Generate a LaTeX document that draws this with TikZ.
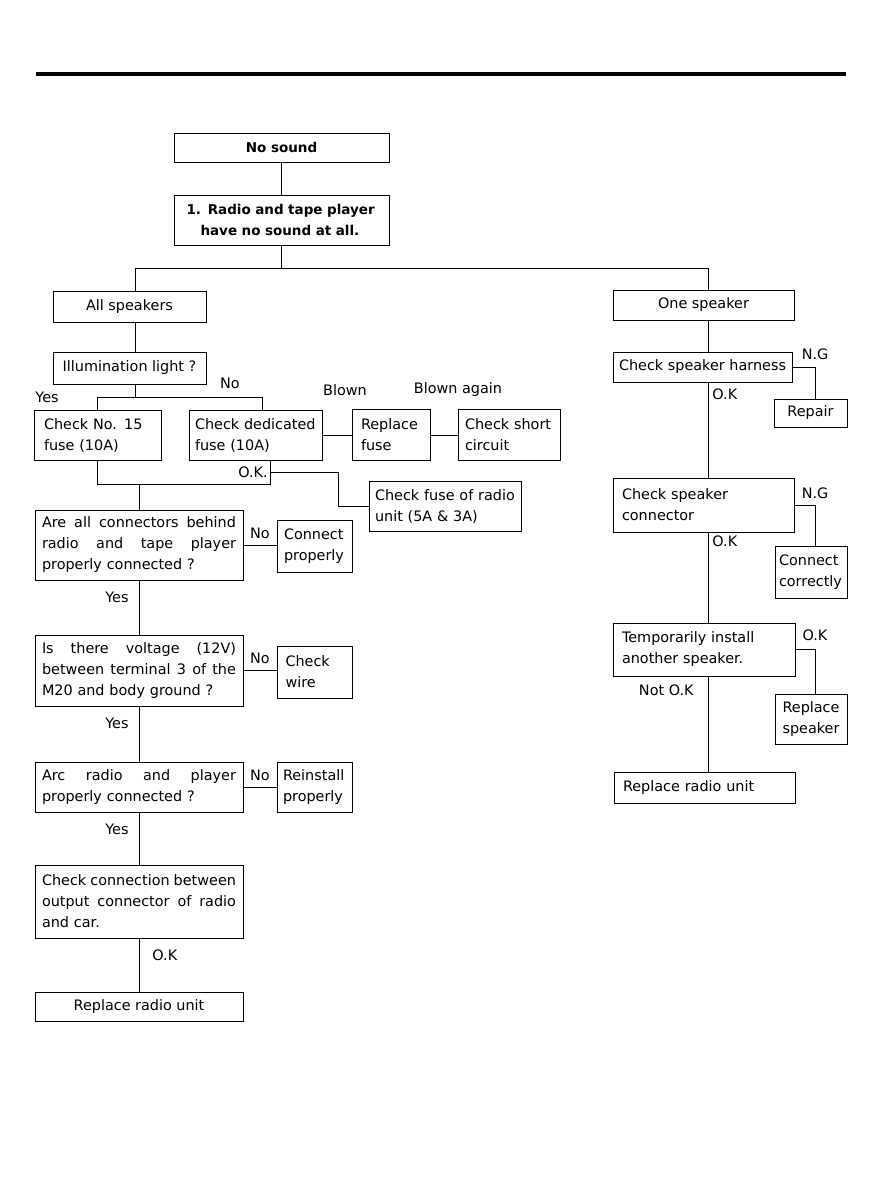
\documentclass[tikz,border=0pt]{standalone}
\usepackage{fontspec}
\setmainfont{DejaVu Sans}
\usepackage{tikz}
\usetikzlibrary{positioning}
\newcommand{\fillline}[1]{\makebox[194pt][s]{\spaceskip=0.33em plus 4em minus 0.1em\relax #1}}

\begin{document}
\begin{tikzpicture}[x=1pt,y=-1pt,
	box/.style={draw,line width=0.9pt,inner sep=0pt,font=\fontsize{14.4}{21}\selectfont},
	sz/.style 2 args={minimum width=#1pt,minimum height=#2pt},
	txt/.style={text width=#1pt,align=left},
	lbl/.style={inner sep=1pt,font=\fontsize{14.4}{17}\selectfont},
	line/.style={line width=0.9pt}]
			
			\useasboundingbox (0,0) rectangle (876,1199);
			\draw[line width=4pt] (36,74) -- (846,74);
			
			\node[box,sz={215}{29},font=\fontsize{13.5}{21}\selectfont\bfseries] (nosound) at (281.5,147.5) {No sound};
			\node[box,sz={215}{50},txt=190,font=\fontsize{13.5}{21}\selectfont\bfseries] (radio) at (281.5,220) {1. Radio and tape player\\\hspace*{14pt}have no sound at all.};
			
			\node[box,sz={153}{31}] (allspk) at (129.5,306.5) {All speakers};
			\node[box,sz={153}{32}] (illum) at (129.5,368) {Illumination light ?};
			\node[box,sz={127}{50},txt=107] (no15) at (97.5,435) {Check No. 15\\fuse (10A)};
			\node[box,sz={133}{50},txt=121] (dedic) at (255.5,435) {Check dedicated\\fuse (10A)};
			\node[box,sz={78}{51},txt=60] (repfuse) at (391,435) {Replace\\fuse};
			\node[box,sz={102}{51},txt=88] (short) at (509,435) {Check short\\circuit};
			\node[box,sz={152}{50},txt=140] (radiofuse) at (445,506) {Check fuse of radio\\unit (5A \& 3A)};
			\node[box,sz={208}{70},txt=194] (conn1) at (139,545) {\fillline{Are all connectors behind}\\\fillline{radio and tape player}\\properly connected ?};
			\node[box,sz={75}{52},txt=61] (connprop) at (314.5,546) {Connect\\properly};
			\node[box,sz={208}{71},txt=194] (volt) at (139,670.5) {\fillline{Is there voltage (12V)}\\\fillline{between terminal 3 of the}\\M20 and body ground ?};
			\node[box,sz={75}{52},txt=58] (wire) at (314.5,672) {Check\\wire};
			\node[box,sz={208}{50},txt=194] (arc) at (139,787) {\fillline{Arc radio and player}\\properly connected ?};
			\node[box,sz={75}{50},txt=63] (reinst) at (314.5,787) {Reinstall\\properly};
			\node[box,sz={208}{73},txt=194] (connect2) at (139,901.5) {\fillline{Check connection between}\\\fillline{output connector of radio}\\and car.};
			\node[box,sz={208}{29}] (reprad1) at (139,1006.5) {Replace radio unit};
			
			\coordinate (spine) at (708,0);
			\coordinate (ngx) at (815,0);
			\node[box,sz={181}{30}] (onespk) at (703.5,305) {One speaker};
			\node[box,sz={179}{30}] (harness) at (702.5,367) {Check speaker harness};
			\node[box,sz={73}{28}] (repair) at (810.5,413) {Repair};
			\node[box,sz={181}{54},txt=163] (spkconn) at (703.5,505) {Check speaker\\connector};
			\node[box,sz={72}{52},txt=64] (conncorr) at (811,572) {Connect\\correctly};
			\node[box,sz={182}{53},txt=164] (temp) at (704,649.5) {Temporarily install\\another speaker.};
			\node[box,sz={72}{50},txt=60,align=center] (repspk) at (811,719) {Replace\\speaker};
			\node[box,sz={181}{31},txt=163] (reprad2) at (704.5,787.5) {Replace radio unit};
			
			\node[lbl] (yes0) at (47,397) {Yes};
			\node[lbl] (no0) at (230,383) {No};
			\node[lbl] (blown) at (345,390) {Blown};
			\node[lbl] (blown2) at (458,390) {Blown again};
			\node[lbl] (okfuse) at (253,472) {O.K.};
			
			\draw[line] (nosound) -- (radio);
			\draw[line] (radio.south) -- ++(0,23) coordinate (jtop);
			\draw[line] ([xshift=5.5pt]allspk.north) |- (jtop) -| (onespk.north -| spine);
			\draw[line] ([xshift=5.5pt]allspk.south) -- ([xshift=5.5pt]illum.north);
			\draw[line] ([xshift=5.5pt]illum.south) -- ++(0,13) coordinate (jill);
			\draw[line] (no15.north) |- (jill) -| ([xshift=6.5pt]dedic.north);
			\draw[line] (dedic.east) -- (repfuse.west);
			\draw[line] (repfuse.east) -- (short.west);
			
			\coordinate (jok) at (270,484);
			\coordinate (okb) at (270,472);
			\coordinate (bend) at (338,472);
			\draw[line] (no15.south) |- (jok) -- (jok |- dedic.south);
			\draw[line] (okb) -- (bend) |- (radiofuse.west);
			\draw[line] (conn1.north) -- (conn1.north |- jok);
			
			\draw[line] (conn1.east) -- node[lbl,above=5pt]{No} (conn1.east -| connprop.west);
			\draw[line] (conn1.south) -- node[lbl,pos=0.31,left=9pt]{Yes} (volt.north);
			\draw[line] (volt.east) -- node[lbl,above=5pt]{No} (volt.east -| wire.west);
			\draw[line] (volt.south) -- node[lbl,pos=0.3,left=9pt]{Yes} (arc.north);
			\draw[line] (arc.east) -- node[lbl,above=5pt]{No} (reinst.west);
			\draw[line] (arc.south) -- node[lbl,pos=0.32,left=9pt]{Yes} (connect2.north);
			\draw[line] (connect2.south) -- node[lbl,pos=0.31,right=12pt]{O.K} (reprad1.north);
			
			\draw[line] (onespk.south -| spine) -- (harness.north -| spine);
			\draw[line] (harness.east) -| node[lbl,pos=0.5,above=6pt]{N.G} (repair.north -| ngx);
			\draw[line] (harness.south -| spine) -- node[lbl,pos=0.12,right=3pt]{O.K} (spkconn.north -| spine);
			\draw[line] (spkconn.east) -| node[lbl,pos=0.5,above=5pt]{N.G} (conncorr.north -| ngx);
			\draw[line] (spkconn.south -| spine) -- node[lbl,pos=0.1,right=3pt]{O.K} (temp.north -| spine);
			\draw[line] (temp.east) -| node[lbl,pos=0.5,above=7pt]{O.K} (repspk.north -| ngx);
			\draw[line] (temp.south -| spine) -- node[lbl,pos=0.146,left=13pt]{Not O.K} (reprad2.north -| spine);
			
		\end{tikzpicture}
\end{document}
